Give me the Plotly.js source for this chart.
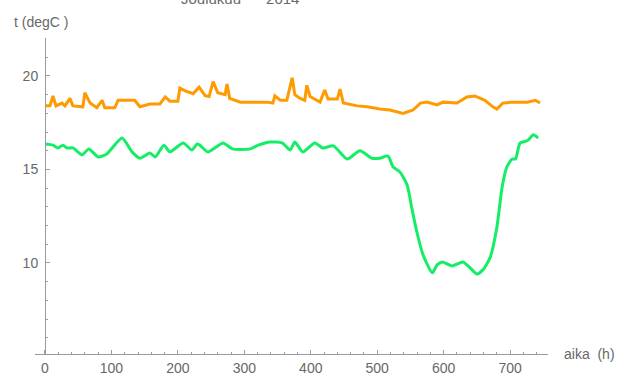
<!DOCTYPE html>
<html>
<head>
<meta charset="utf-8">
<script src="https://cdn.plot.ly/plotly-3.0.1.min.js"></script>
<style>html,body{margin:0;padding:0;background:#fff;}#chart{width:627px;height:379px;}</style>
</head>
<body>
<div id="chart"></div>
<script>
// Series 1 (orange) – hours and temperature
var orangeHours = [0, 7.5, 12, 16.6, 25.6, 30, 37.6, 42, 57, 60, 68, 78, 86, 90, 105, 110, 135, 143, 158, 173, 181, 188, 200, 203, 211, 223, 232, 241, 247, 253, 260, 271, 274, 278, 294, 334, 343, 346, 354, 364, 372, 376, 384, 391, 394, 399, 414, 421, 426, 440, 444, 449, 470, 485, 504, 519, 539, 554, 565, 575, 590, 599, 620, 635, 647, 662, 674, 680, 689, 704, 726, 738, 745];
var orangeTemp  = [18.4, 18.4, 18.93, 18.4, 18.55, 18.4, 18.8, 18.4, 18.35, 19.1, 18.55, 18.3, 18.7, 18.3, 18.3, 18.7, 18.7, 18.35, 18.5, 18.5, 18.88, 18.65, 18.65, 19.35, 19.2, 19.05, 19.4, 18.95, 18.9, 19.7, 19.1, 19.0, 19.57, 18.8, 18.6, 18.6, 18.55, 18.93, 18.7, 18.7, 19.9, 19.0, 18.8, 18.7, 19.5, 18.9, 18.6, 19.25, 18.77, 18.77, 19.3, 18.55, 18.4, 18.35, 18.23, 18.18, 18.0, 18.18, 18.55, 18.6, 18.45, 18.6, 18.55, 18.88, 18.93, 18.7, 18.35, 18.23, 18.55, 18.6, 18.6, 18.7, 18.55];

// Series 2 (green) – hours and temperature
var greenHours = [0, 12, 19.6, 27, 33, 42, 56, 66, 80, 93, 116, 131, 143, 158, 166, 179, 188, 208, 221, 229, 233, 245, 268, 282, 309, 321, 339, 357, 369, 376, 388, 406, 418, 434, 455, 474, 492, 504, 516, 524, 534, 545, 552, 560, 569, 583, 590, 598, 613, 629, 640, 650, 659, 670, 680, 688, 695, 703, 708, 715, 723, 727, 735, 742];
var greenTemp  = [16.36, 16.3, 16.15, 16.3, 16.15, 16.15, 15.78, 16.1, 15.67, 15.83, 16.68, 15.94, 15.6, 15.88, 15.67, 16.3, 15.94, 16.42, 16.04, 16.36, 16.3, 15.94, 16.42, 16.1, 16.1, 16.3, 16.47, 16.42, 16.04, 16.47, 15.94, 16.42, 16.15, 16.26, 15.56, 16.0, 15.6, 15.6, 15.72, 15.13, 14.87, 14.17, 12.94, 11.6, 10.43, 9.47, 9.9, 10.05, 9.84, 10.05, 9.73, 9.41, 9.63, 10.3, 11.9, 14.06, 15.13, 15.56, 15.56, 16.42, 16.5, 16.57, 16.85, 16.68];

// Axis tick labels
var xTickVals = [0, 100, 200, 300, 400, 500, 600, 700];
var yTickVals = [10, 15, 20];

var titleText = 'Joulukuu&nbsp;&nbsp;&nbsp;&nbsp;&nbsp;&nbsp;2014';
var yLabel = 't (degC )';
var xLabel = 'aika&nbsp;&nbsp;(h)';

var gray = '#686868';
var axisGray = '#9a9a9a';
var fontFam = 'Liberation Sans, Arial, sans-serif';

var traces = [
  {x: orangeHours, y: orangeTemp, type: 'scatter', mode: 'lines',
   line: {color: '#ff9a00', width: 3}, hoverinfo: 'skip'},
  {x: greenHours, y: greenTemp, type: 'scatter', mode: 'lines',
   line: {color: '#14ee66', width: 3, shape: 'spline', smoothing: 0.6}, hoverinfo: 'skip'}
];

var layout = {
  width: 627, height: 379,
  margin: {l: 35, r: 79, t: 38, b: 25, pad: 0},
  paper_bgcolor: '#ffffff', plot_bgcolor: '#ffffff',
  showlegend: false,
  font: {family: fontFam, color: gray, size: 14},
  xaxis: {
    range: [-15, 757], showgrid: false, zeroline: false,
    showline: true, linecolor: axisGray, linewidth: 1,
    tickvals: xTickVals, ticktext: xTickVals.map(String),
    ticks: 'inside', ticklen: 4, tickcolor: axisGray, tickwidth: 1,
    minor: {dtick: 20, tick0: 0, ticks: 'inside', ticklen: 2, tickcolor: axisGray, showgrid: false},
    tickfont: {family: fontFam, size: 14, color: gray},
    ticklabelstandoff: 1
  },
  yaxis: {
    range: [5.13, 22.03], showgrid: false, zeroline: false,
    anchor: 'free', position: 10 / 513,
    showline: true, linecolor: axisGray, linewidth: 1,
    tickvals: yTickVals, ticktext: yTickVals.map(String),
    ticks: 'inside', ticklen: 4, tickcolor: axisGray, tickwidth: 1,
    minor: {dtick: 1, tick0: 0, ticks: 'inside', ticklen: 2, tickcolor: axisGray, showgrid: false},
    tickfont: {family: fontFam, size: 14, color: gray},
    ticklabelstandoff: 4
  },
  annotations: [
    {text: titleText, xref: 'paper', yref: 'paper', x: (240 - 35) / 513, y: 1 + 40 / 316,
     xanchor: 'center', yanchor: 'middle', showarrow: false,
     font: {family: fontFam, size: 15, color: gray}},
    {text: yLabel, xref: 'paper', yref: 'paper', x: (12 - 35) / 513, y: 1 + (38 - 22) / 316,
     xanchor: 'left', yanchor: 'middle', showarrow: false,
     font: {family: fontFam, size: 14, color: gray}},
    {text: xLabel, xref: 'paper', yref: 'paper', x: (562 - 35) / 513, y: 0,
     xanchor: 'left', yanchor: 'middle', showarrow: false,
     font: {family: fontFam, size: 14, color: gray}}
  ]
};

Plotly.newPlot('chart', traces, layout, {staticPlot: true, displayModeBar: false});
</script>
</body>
</html>
